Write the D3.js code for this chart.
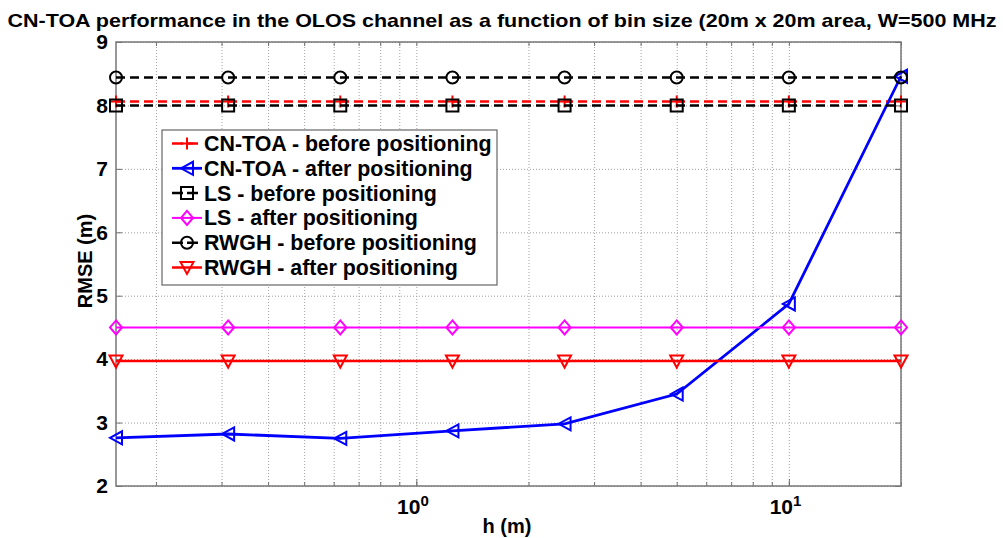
<!DOCTYPE html>
<html>
<head>
<meta charset="utf-8">
<script src="https://cdn.jsdelivr.net/npm/d3@7"></script>
<style>
  body { margin: 0; background: #fff; }
  svg { display: block; font-family: "Liberation Sans", Arial, Helvetica, sans-serif; font-weight: bold; }
</style>
</head>
<body>
<svg id="chart" width="1003" height="538"></svg>
<script>
// bin sizes h (m), each halving
var binSizes = [0.15625, 0.3125, 0.625, 1.25, 2.5, 5, 10, 20];

// RMSE (m) per series
var cntoaBefore = [8.06, 8.06, 8.06, 8.06, 8.06, 8.06, 8.06, 8.06];
var cntoaAfter  = [2.76, 2.82, 2.75, 2.87, 2.98, 3.45, 4.87, 8.46];
var lsBefore    = [8.00, 8.00, 8.00, 8.00, 8.00, 8.00, 8.00, 8.00];
var lsAfter     = [4.50, 4.50, 4.50, 4.50, 4.50, 4.50, 4.50, 4.50];
var rwghBefore  = [8.44, 8.44, 8.44, 8.44, 8.44, 8.44, 8.44, 8.44];
var rwghAfter   = [3.97, 3.97, 3.97, 3.97, 3.97, 3.97, 3.97, 3.97];

var seriesNames = ["CN-TOA - before positioning", "CN-TOA - after positioning",
                   "LS - before positioning", "LS - after positioning",
                   "RWGH - before positioning", "RWGH - after positioning"];
var yTicks = [2, 3, 4, 5, 6, 7, 8, 9];
var xLabelTicks = [1, 10];

var series = [
  {name: seriesNames[0], values: cntoaBefore, color: "#ff0000", dash: "9,5", width: 2.5, marker: "plus"},
  {name: seriesNames[1], values: cntoaAfter,  color: "#0000ff", dash: null,  width: 2.8, marker: "triLeft"},
  {name: seriesNames[2], values: lsBefore,    color: "#000000", dash: "9,5", width: 2.5, marker: "square"},
  {name: seriesNames[3], values: lsAfter,     color: "#ff00ff", dash: null,  width: 2,   marker: "diamond"},
  {name: seriesNames[4], values: rwghBefore,  color: "#000000", dash: "9,5", width: 2.5, marker: "circle"},
  {name: seriesNames[5], values: rwghAfter,   color: "#ff0000", dash: null,  width: 2.5, marker: "triDown"}
];

var plotL = 116, plotR = 901, plotT = 42, plotB = 486;

var x = d3.scaleLog().domain([0.15625, 20]).range([plotL, plotR]);
var y = d3.scaleLinear().domain([2, 9]).range([plotB, plotT]);

var svg = d3.select("#chart");

// marker shapes, centred on 0,0
function markerPath(type) {
  switch (type) {
    case "plus": return "M-6,0H6M0,-6V6";
    case "triLeft": return "M-6,0L6,-6.5L6,6.5Z";
    case "square": return "M-6,-6H6V6H-6Z";
    case "diamond": return "M0,-7L6,0L0,7L-6,0Z";
    case "circle": return "M-6,0A6,6 0 1,0 6,0A6,6 0 1,0 -6,0Z";
    case "triDown": return "M-6.5,-5.5H6.5L0,6.5Z";
  }
}

// grid (dotted, minor log lines included)
svg.append("g")
   .attr("transform", "translate(0," + plotB + ")")
   .call(d3.axisBottom(x).ticks(10).tickSize(-(plotB - plotT)).tickFormat(""))
   .call(function(g) {
     g.select(".domain").remove();
     g.selectAll(".tick line").attr("stroke", "#a0a0a0").attr("stroke-dasharray", "1,2");
   });

svg.append("g")
   .attr("transform", "translate(" + plotL + ",0)")
   .call(d3.axisLeft(y).tickValues(yTicks).tickSize(-(plotR - plotL)).tickFormat(""))
   .call(function(g) {
     g.select(".domain").remove();
     g.selectAll(".tick line").attr("stroke", "#a0a0a0").attr("stroke-dasharray", "1,2");
   });

// inward ticks on all four sides
svg.append("g")
   .attr("transform", "translate(" + plotL + ",0)")
   .call(d3.axisLeft(y).tickValues(yTicks).tickFormat(d3.format("d")).tickSizeInner(-6).tickSizeOuter(0).tickPadding(8))
   .call(function(g) {
     g.select(".domain").remove();
     g.selectAll(".tick line").attr("stroke", "#707070");
     g.selectAll(".tick text").attr("font-size", 21).attr("font-weight", "bold")
      .attr("fill", "#000").attr("font-family", "Liberation Sans, Arial, sans-serif");
   });
svg.append("g")
   .attr("transform", "translate(" + plotR + ",0)")
   .call(d3.axisRight(y).tickValues(yTicks).tickSizeInner(-6).tickSizeOuter(0).tickFormat(""))
   .call(function(g) { g.select(".domain").remove(); g.selectAll(".tick line").attr("stroke", "#707070"); });

svg.append("g")
   .attr("transform", "translate(0," + plotB + ")")
   .call(d3.axisBottom(x).ticks(10).tickSizeInner(-4).tickSizeOuter(0).tickFormat(""))
   .call(function(g) { g.select(".domain").remove(); g.selectAll(".tick line").attr("stroke", "#707070"); });
svg.append("g")
   .attr("transform", "translate(0," + plotT + ")")
   .call(d3.axisTop(x).ticks(10).tickSizeInner(-4).tickSizeOuter(0).tickFormat(""))
   .call(function(g) { g.select(".domain").remove(); g.selectAll(".tick line").attr("stroke", "#707070"); });

// power-of-ten labels
svg.append("g")
   .attr("transform", "translate(0," + plotB + ")")
   .call(d3.axisBottom(x).tickValues(xLabelTicks).tickSizeInner(-7).tickSizeOuter(0).tickPadding(10).tickFormat(function() { return "10"; }))
   .call(function(g) {
     g.select(".domain").remove();
     g.selectAll(".tick line").attr("stroke", "#707070");
     g.selectAll(".tick text").attr("font-size", 21).attr("font-weight", "bold").attr("fill", "#000")
      .attr("font-family", "Liberation Sans, Arial, sans-serif")
      .attr("text-anchor", "end").attr("x", 12).attr("dy", "0.85em")
      .append("tspan").attr("dy", "-0.55em").attr("font-size", 15)
      .text(function(d) { return Math.round(Math.log10(d)); });
   });

// axes box
svg.append("rect")
   .attr("x", plotL).attr("y", plotT)
   .attr("width", plotR - plotL).attr("height", plotB - plotT)
   .attr("fill", "none").attr("stroke", "#777").attr("stroke-width", 1.5);

// lines + markers
var line = d3.line()
  .x(function(d, i) { return x(binSizes[i]); })
  .y(function(d) { return y(d); });

series.forEach(function(s) {
  var g = svg.append("g");
  g.append("path")
   .attr("d", line(s.values))
   .attr("fill", "none")
   .attr("stroke", s.color)
   .attr("stroke-width", s.width)
   .attr("stroke-dasharray", s.dash);
  g.selectAll("path.m")
   .data(s.values)
   .enter().append("path")
   .attr("class", "m")
   .attr("d", markerPath(s.marker))
   .attr("transform", function(d, i) { return "translate(" + x(binSizes[i]) + "," + y(d) + ")"; })
   .attr("fill", "none")
   .attr("stroke", s.color)
   .attr("stroke-width", 2);
});

// legend
var lg = svg.append("g").attr("transform", "translate(162,130)");
lg.append("rect")
  .attr("width", 335).attr("height", 155)
  .attr("fill", "#fff").attr("stroke", "#666").attr("stroke-width", 1.2);

series.forEach(function(s, i) {
  var cy = 13.5 + i * 24.8;
  lg.append("line")
    .attr("x1", 10).attr("x2", 40).attr("y1", cy).attr("y2", cy)
    .attr("stroke", s.color).attr("stroke-width", s.width)
    .attr("stroke-dasharray", s.dash ? "11,4" : null);
  lg.append("path")
    .attr("d", markerPath(s.marker))
    .attr("transform", "translate(25," + cy + ")")
    .attr("fill", "none").attr("stroke", s.color).attr("stroke-width", 2);
  lg.append("text")
    .attr("x", 42).attr("y", cy + 7.5)
    .attr("font-size", 21.4)
    .attr("fill", "#000")
    .text(s.name);
});

// title and axis labels
svg.append("text")
   .attr("x", 502).attr("y", 27)
   .attr("text-anchor", "middle")
   .attr("font-size", 19)
   .attr("textLength", 989)
   .attr("lengthAdjust", "spacingAndGlyphs")
   .text("CN-TOA performance in the OLOS channel as a function of bin size (20m x 20m area, W=500 MHz");

svg.append("text")
   .attr("x", 507).attr("y", 533)
   .attr("text-anchor", "middle")
   .attr("font-size", 20)
   .text("h (m)");

svg.append("text")
   .attr("transform", "translate(92,261) rotate(-90)")
   .attr("text-anchor", "middle")
   .attr("font-size", 20)
   .text("RMSE (m)");
</script>
</body>
</html>
